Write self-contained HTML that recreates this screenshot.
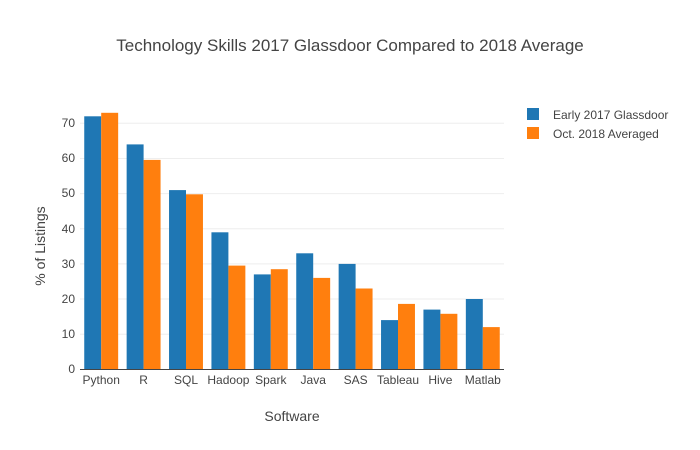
<!DOCTYPE html>
<html><head><style>body{margin:0;background:#fff}svg{display:block}</style></head><body>
<svg width="700" height="450" xmlns="http://www.w3.org/2000/svg" font-family="'Liberation Sans',sans-serif">
<rect width="700" height="450" fill="#fff"/>
<text x="350" y="51" text-anchor="middle" font-size="17" fill="#444">Technology Skills 2017 Glassdoor Compared to 2018 Average</text>
<g stroke="#eee" stroke-width="1">
<line x1="80" x2="504" y1="334.2" y2="334.2"/><line x1="80" x2="504" y1="299" y2="299"/>
<line x1="80" x2="504" y1="263.9" y2="263.9"/><line x1="80" x2="504" y1="228.7" y2="228.7"/>
<line x1="80" x2="504" y1="193.6" y2="193.6"/><line x1="80" x2="504" y1="158.5" y2="158.5"/>
<line x1="80" x2="504" y1="123.3" y2="123.3"/>
</g>
<g font-size="12" fill="#444" text-anchor="end">
<text x="75" y="373">0</text><text x="75" y="338">10</text><text x="75" y="303">20</text>
<text x="75" y="268">30</text><text x="75" y="233">40</text><text x="75" y="197">50</text>
<text x="75" y="162">60</text><text x="75" y="127">70</text>
</g>
<g fill="#1f77b4">
<rect x="84.24" y="116.3" width="16.96" height="253"/>
<rect x="126.64" y="144.4" width="16.96" height="224.9"/>
<rect x="169.04" y="190.1" width="16.96" height="179.2"/>
<rect x="211.44" y="232.3" width="16.96" height="137"/>
<rect x="253.84" y="274.4" width="16.96" height="94.9"/>
<rect x="296.24" y="253.3" width="16.96" height="116"/>
<rect x="338.64" y="263.9" width="16.96" height="105.4"/>
<rect x="381.04" y="320.1" width="16.96" height="49.2"/>
<rect x="423.44" y="309.6" width="16.96" height="59.7"/>
<rect x="465.84" y="299" width="16.96" height="70.3"/>
</g>
<g fill="#ff7f0e">
<rect x="101.2" y="112.8" width="16.96" height="256.5"/>
<rect x="143.6" y="159.9" width="16.96" height="209.4"/>
<rect x="186" y="194.3" width="16.96" height="175"/>
<rect x="228.4" y="265.6" width="16.96" height="103.7"/>
<rect x="270.8" y="269.2" width="16.96" height="100.1"/>
<rect x="313.2" y="277.9" width="16.96" height="91.4"/>
<rect x="355.6" y="288.5" width="16.96" height="80.8"/>
<rect x="398" y="303.9" width="16.96" height="65.4"/>
<rect x="440.4" y="313.8" width="16.96" height="55.5"/>
<rect x="482.8" y="327.1" width="16.96" height="42.2"/>
</g>
<line x1="80" x2="504" y1="369.5" y2="369.5" stroke="#444" stroke-width="1"/>
<g font-size="12" fill="#444" text-anchor="middle">
<text x="101.2" y="384">Python</text><text x="143.6" y="384">R</text>
<text x="186" y="384">SQL</text><text x="228.4" y="384">Hadoop</text>
<text x="270.8" y="384">Spark</text><text x="313.2" y="384">Java</text>
<text x="355.6" y="384">SAS</text><text x="398" y="384">Tableau</text>
<text x="440.4" y="384">Hive</text><text x="482.8" y="384">Matlab</text>
</g>
<text x="292" y="421" text-anchor="middle" font-size="14" fill="#444">Software</text>
<text transform="translate(45,246) rotate(-90)" text-anchor="middle" font-size="14" fill="#444">% of Listings</text>
<rect x="527" y="108" width="12" height="12" fill="#1f77b4"/>
<rect x="527" y="127" width="12" height="12" fill="#ff7f0e"/>
<text x="553" y="119" font-size="12" fill="#444">Early 2017 Glassdoor</text>
<text x="553" y="138" font-size="12" fill="#444">Oct. 2018 Averaged</text>
</svg>
</body></html>
